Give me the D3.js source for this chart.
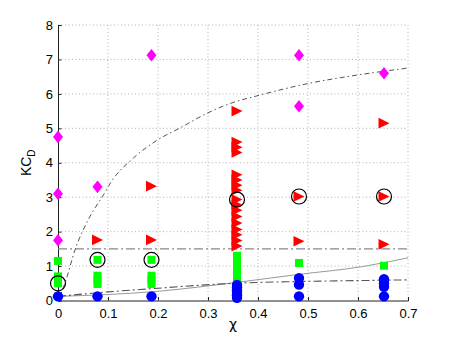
<!DOCTYPE html>
<html>
<head>
<meta charset="utf-8">
<script src="https://cdn.jsdelivr.net/npm/d3@7"></script>
<style>
  body { margin: 0; background: #fff; }
  text { font-family: "Liberation Sans", Arial, sans-serif; fill: #000; }
</style>
</head>
<body>
<div id="chart"></div>
<script>
///////////////////////////////////////////////////////////////////////////
///////////////////////////////// Data ////////////////////////////////////
///////////////////////////////////////////////////////////////////////////
var xTicks = [0, 0.1, 0.2, 0.3, 0.4, 0.5, 0.6, 0.7]
var yTicks = [0, 1, 2, 3, 4, 5, 6, 7, 8]

// [chi, KC_D]
var magentaPts = [[0, 4.75], [0, 3.1], [0, 1.75], [0.079, 3.3], [0.187, 7.12],
  [0.482, 7.12], [0.482, 5.64], [0.652, 6.6]]

var redPts = [[0.079, 1.76], [0.187, 3.32], [0.187, 1.76],
  [0.358, 5.5], [0.358, 4.6], [0.358, 4.45], [0.358, 4.3], [0.358, 3.65], [0.358, 3.5],
  [0.358, 3.35], [0.358, 3.2], [0.358, 2.93], [0.358, 2.78], [0.358, 2.62], [0.358, 2.44],
  [0.358, 2.25], [0.358, 2.06], [0.358, 1.91], [0.358, 1.74], [0.358, 1.58],
  [0.482, 3.02], [0.482, 1.72], [0.652, 5.15], [0.652, 3.02], [0.652, 1.63]]

var greenPts = [[0, 1.15], [0, 0.7], [0, 0.5],
  [0.079, 1.18], [0.079, 0.72], [0.079, 0.6], [0.079, 0.48],
  [0.187, 1.18], [0.187, 0.72], [0.187, 0.6], [0.187, 0.48],
  [0.358, 1.3], [0.358, 1.2], [0.358, 1.1], [0.358, 1.0], [0.358, 0.9], [0.358, 0.8], [0.358, 0.67],
  [0.482, 1.09], [0.652, 1.01]]

var bluePts = [[0, 0.12], [0.079, 0.12], [0.187, 0.12],
  [0.358, 0.45], [0.358, 0.38], [0.358, 0.3], [0.358, 0.22], [0.358, 0.15], [0.358, 0.08],
  [0.482, 0.65], [0.482, 0.46], [0.482, 0.12],
  [0.652, 0.62], [0.652, 0.5], [0.652, 0.4], [0.652, 0.12]]

var ringPts = [[0, 0.5], [0.079, 1.18], [0.187, 1.18], [0.358, 2.93], [0.482, 3.02], [0.652, 3.02]]

// boundary curves
var upperCurve = [[0, 0], [0.015, 0.55], [0.034, 1.47], [0.064, 2.44], [0.091, 3.07], [0.107, 3.46],
  [0.151, 4.14], [0.2, 4.67], [0.244, 5.01], [0.3, 5.45], [0.344, 5.72], [0.4, 5.95],
  [0.5, 6.3], [0.6, 6.55], [0.7, 6.75]]
var flatLine = [[0, 1.5], [0.7, 1.5]]
var lowerCurve = [[0, 0.12], [0.1, 0.25], [0.194, 0.35], [0.28, 0.44], [0.354, 0.5],
  [0.477, 0.55], [0.611, 0.58], [0.7, 0.6]]
var solidCurve = [[0, 0.12], [0.194, 0.26], [0.354, 0.52], [0.477, 0.75], [0.611, 0.99], [0.7, 1.24]]

///////////////////////////////////////////////////////////////////////////
//////////////////// Set up and initiate containers ///////////////////////
///////////////////////////////////////////////////////////////////////////
var totalWidth = 450
var totalHeight = 339
var margin = { top: 25, right: 42, bottom: 38.5, left: 58 }
var width = totalWidth - margin.left - margin.right
var height = totalHeight - margin.top - margin.bottom

var svg = d3.select('#chart').append('svg')
  .attr('width', totalWidth)
  .attr('height', totalHeight)

var g = svg.append('g')
  .attr('transform', 'translate(' + margin.left + ',' + margin.top + ')')

var xScale = d3.scaleLinear().domain([0, 0.7]).range([0, width])
var yScale = d3.scaleLinear().domain([0, 8]).range([height, 0])

///////////////////////////////////////////////////////////////////////////
////////////////////////////// Grid and axes //////////////////////////////
///////////////////////////////////////////////////////////////////////////
g.append('g').selectAll('line').data(xTicks.slice(1)).join('line')
  .attr('x1', d => xScale(d)).attr('x2', d => xScale(d))
  .attr('y1', 0).attr('y2', height)
  .attr('stroke', '#aaa').attr('stroke-width', 0.9).attr('stroke-dasharray', '1,2.5')

g.append('g').selectAll('line').data(yTicks.slice(1)).join('line')
  .attr('x1', 0).attr('x2', width)
  .attr('y1', d => yScale(d)).attr('y2', d => yScale(d))
  .attr('stroke', '#aaa').attr('stroke-width', 0.9).attr('stroke-dasharray', '1,2.5')

var xAxis = g.append('g')
  .attr('transform', 'translate(0,' + height + ')')
  .call(d3.axisBottom(xScale).tickValues(xTicks).tickSize(-3.5).tickPadding(8)
    .tickFormat(d => d === 0 ? '0' : d3.format('.1f')(d)))
var yAxis = g.append('g')
  .call(d3.axisLeft(yScale).tickValues(yTicks).tickSize(-3.5).tickPadding(5)
    .tickFormat(d3.format('d')))

;[xAxis, yAxis].forEach(a => {
  a.select('.domain').attr('stroke', '#222').attr('stroke-width', 1)
  a.selectAll('.tick line').attr('stroke', '#222')
  a.selectAll('.tick text').attr('font-size', 13).attr('font-family', '"Liberation Sans", Arial, sans-serif')
})

///////////////////////////////////////////////////////////////////////////
///////////////////////////////// Curves //////////////////////////////////
///////////////////////////////////////////////////////////////////////////
var line = d3.line()
  .x(d => xScale(d[0]))
  .y(d => yScale(d[1]))
  .curve(d3.curveMonotoneX)

g.append('path').datum(solidCurve).attr('d', line)
  .attr('fill', 'none').attr('stroke', '#999').attr('stroke-width', 1)
g.append('path').datum(lowerCurve).attr('d', line)
  .attr('fill', 'none').attr('stroke', '#555').attr('stroke-width', 1.1)
  .attr('stroke-dasharray', '8,3,2,3')
g.append('path').datum(flatLine).attr('d', line)
  .attr('fill', 'none').attr('stroke', '#888').attr('stroke-width', 1.4)
  .attr('stroke-dasharray', '9,3,2,3')
g.append('path').datum(upperCurve).attr('d', line)
  .attr('fill', 'none').attr('stroke', '#555').attr('stroke-width', 1)
  .attr('stroke-dasharray', '5,3,1.5,3')

///////////////////////////////////////////////////////////////////////////
///////////////////////////////// Markers /////////////////////////////////
///////////////////////////////////////////////////////////////////////////
g.append('g').selectAll('path').data(magentaPts).join('path')
  .attr('transform', d => 'translate(' + xScale(d[0]) + ',' + yScale(d[1]) + ')')
  .attr('d', 'M0,-6.3L5,0L0,6.3L-5,0Z')
  .attr('fill', '#ff00ff')

g.append('g').selectAll('path').data(redPts).join('path')
  .attr('transform', d => 'translate(' + xScale(d[0]) + ',' + yScale(d[1]) + ')')
  .attr('d', 'M-5.5,-5.3L5.5,0L-5.5,5.3Z')
  .attr('fill', '#ff0000')

g.append('g').selectAll('rect').data(greenPts).join('rect')
  .attr('x', d => xScale(d[0]) - 4)
  .attr('y', d => yScale(d[1]) - 4)
  .attr('width', 8).attr('height', 8)
  .attr('fill', '#00ff00')

g.append('g').selectAll('circle').data(bluePts).join('circle')
  .attr('cx', d => xScale(d[0]))
  .attr('cy', d => yScale(d[1]))
  .attr('r', 5.2)
  .attr('fill', '#0000ff')

g.append('g').selectAll('circle').data(ringPts).join('circle')
  .attr('cx', d => xScale(d[0]))
  .attr('cy', d => yScale(d[1]))
  .attr('r', 7.5)
  .attr('fill', 'none')
  .attr('stroke', '#000')
  .attr('stroke-width', 1.2)

///////////////////////////////////////////////////////////////////////////
///////////////////////////////// Labels //////////////////////////////////
///////////////////////////////////////////////////////////////////////////
svg.append('text')
  .attr('x', margin.left + width / 2)
  .attr('y', 329)
  .attr('text-anchor', 'middle')
  .attr('font-size', 14)
  .style('font-family', '"DejaVu Sans", sans-serif')
  .text('χ')

var yLab = svg.append('text')
  .attr('transform', 'translate(31,' + (margin.top + height / 2) + ') rotate(-90)')
  .attr('text-anchor', 'middle')
  .attr('font-size', 14)
yLab.append('tspan').text('KC')
yLab.append('tspan').attr('font-size', 10).attr('dy', 4).text('D')
</script>
</body>
</html>
